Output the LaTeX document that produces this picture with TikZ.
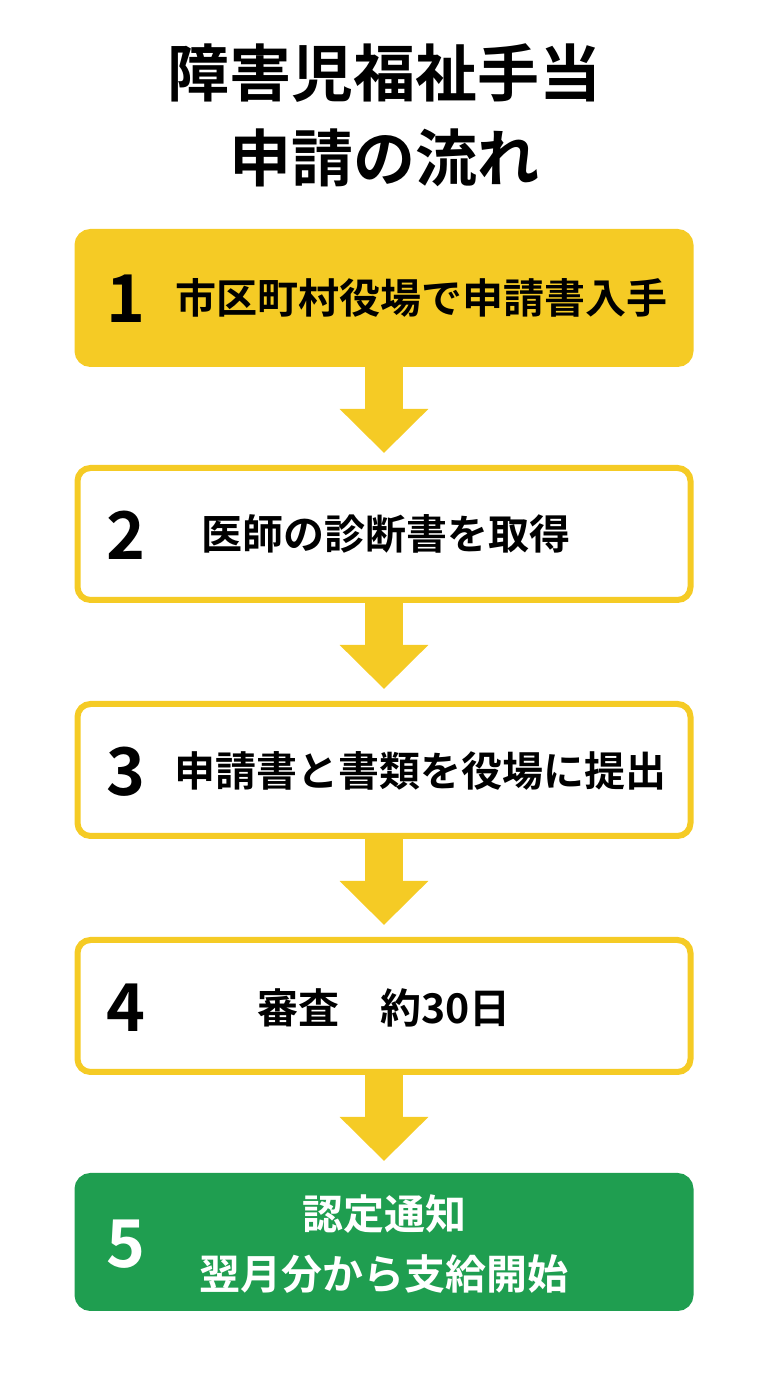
\documentclass[tikz,border=0pt]{standalone}
\usepackage{fontspec}
\setmainfont{Noto Sans CJK JP}[BoldFont={* Bold}]
\usepackage{tikz}
\usetikzlibrary{positioning,arrows.meta}
\definecolor{stepyellow}{HTML}{F5CB25}
\definecolor{stepgreen}{HTML}{1F9E50}
\begin{document}
\begin{tikzpicture}[x=1pt,y=1pt,
    yellowbox/.style = {draw=stepyellow, fill=stepyellow, rounded corners=13pt, line width=6pt, minimum width=613pt, minimum height=132pt, inner sep=0pt},
    whitebox/.style = {yellowbox, fill=white},
    greenbox/.style = {yellowbox, draw=stepgreen, fill=stepgreen},
    num/.style = {font=\fontsize{66}{66}\selectfont\bfseries, anchor=center},
    txt/.style = {font=\fontsize{41}{60}\selectfont\bfseries, align=center, anchor=center},
    downarrow/.style = {draw=stepyellow, line width=38pt, shorten >=12pt, -{Triangle[width=86pt,length=44pt]}}]
    \useasboundingbox (0,0) rectangle (768,1376);
    \node[font=\fontsize{62}{85}\selectfont\bfseries, align=center] (title) at (384,1261) {障害児福祉手当\\申請の流れ};
    \node[yellowbox] (1) at (384,1078) {};
    \node[whitebox] (2) [below=98pt of 1] {};
    \node[whitebox] (3) [below=98pt of 2] {};
    \node[whitebox] (4) [below=98pt of 3] {};
    \node[greenbox] (5) [below=98pt of 4] {};
    \node[num] (n1) at (126,1077) {1};
    \node[num] (n2) at (126,841) {2};
    \node[num] (n3) at (126,604) {3};
    \node[num] (n4) at (126,368) {4};
    \node[num, text=white] (n5) at (126,132) {5};
    \node[txt] (t1) at (421,1078) {市区町村役場で申請書入手};
    \node[txt] (t2) at (386,842) {医師の診断書を取得};
    \node[txt] (t3) at (420,605) {申請書と書類を役場に提出};
    \node[txt] (t4) at (384,368) {審査\quad 約30日};
    \node[txt, text=white] (t5) at (384,132) {認定通知\\翌月分から支給開始};
    \draw[downarrow] (1) -- (2);
    \draw[downarrow] (2) -- (3);
    \draw[downarrow] (3) -- (4);
    \draw[downarrow] (4) -- (5);
\end{tikzpicture}
\end{document}
